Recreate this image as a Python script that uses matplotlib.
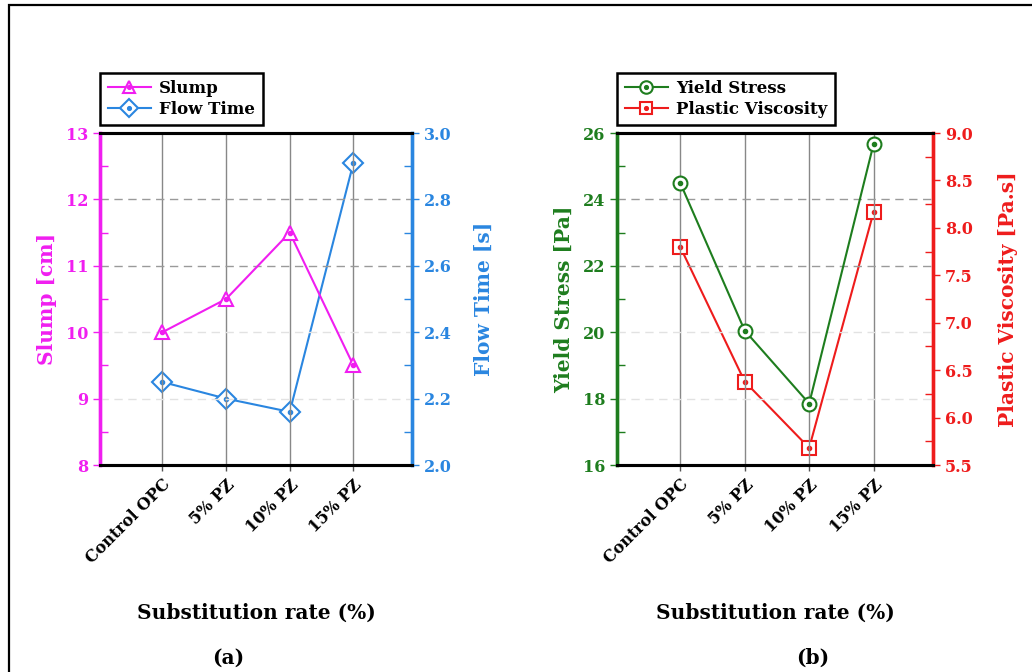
import matplotlib
matplotlib.use("Agg")
import matplotlib.pyplot as plt
from matplotlib.legend_handler import HandlerTuple
from matplotlib.ticker import MultipleLocator

plt.rcParams['font.family'] = 'DejaVu Serif'
plt.rcParams['font.weight'] = 'bold'

categories = ["Control OPC", "5% PZ", "10% PZ", "15% PZ"]
slump = [10.0, 10.5, 11.5, 9.5]
flow_time = [2.25, 2.20, 2.16, 2.91]
yield_stress = [24.5, 20.05, 17.85, 25.68]
plastic_viscosity = [7.80, 6.38, 5.68, 8.17]

magenta = "#f01ef0"
blue = "#2a86e0"
green = "#1e7d1e"
red = "#ee1c1c"
dash = (0, (6, 4))

fig = plt.figure(figsize=(10.32, 6.72), dpi=100)

# outer frame (only top and left edge visible in the source)
fig.add_artist(plt.Rectangle((9 / 1032, -0.1), 1.2, 1.1 - 5 / 672, transform=fig.transFigure,
                             fill=False, edgecolor="black", linewidth=1.6))


def draw_panel(rect, left_vals, right_vals, left_color, right_color, left_marker, right_marker,
               left_lim, right_lim, left_major, left_minor, right_major, right_minor,
               left_label, right_label, left_name, right_name, left_fmt, right_fmt,
               dark_rows, light_rows, sub_label, sub_x, right_pad):
    x = list(range(len(categories)))
    ax = fig.add_axes(rect)
    ax2 = ax.twinx()
    ax.set_zorder(ax2.get_zorder() + 1)
    ax.patch.set_visible(False)

    ax.set_xlim(-0.98, 3.92)
    ax.set_ylim(*left_lim)
    ax2.set_ylim(*right_lim)

    ax.set_xticks(x)
    ax.set_xticklabels(categories, rotation=45, ha="right", rotation_mode="anchor",
                       fontsize=11.5, fontweight="bold")
    ax.tick_params(axis="x", direction="out", length=4, width=1, color="#555555", pad=4)

    ax.yaxis.set_major_locator(MultipleLocator(left_major))
    ax.yaxis.set_minor_locator(MultipleLocator(left_minor))
    ax2.yaxis.set_major_locator(MultipleLocator(right_major))
    ax2.yaxis.set_minor_locator(MultipleLocator(right_minor))
    ax.yaxis.set_major_formatter(left_fmt)
    ax2.yaxis.set_major_formatter(right_fmt)
    ax.tick_params(axis="y", which="major", direction="out", length=5, width=1,
                   colors=left_color, labelsize=11.5)
    ax.tick_params(axis="y", which="minor", direction="in", length=6, width=1, colors=left_color)
    ax2.tick_params(axis="y", which="major", direction="out", length=5, width=1,
                    colors=right_color, labelsize=11.5)
    ax2.tick_params(axis="y", which="minor", direction="in", length=6, width=1, colors=right_color)

    for a in (ax, ax2):
        a.spines["top"].set_linewidth(2.2)
        a.spines["bottom"].set_linewidth(2.2)
        a.spines["top"].set_color("black")
        a.spines["bottom"].set_color("black")
        a.spines["left"].set_linewidth(2.4)
        a.spines["right"].set_linewidth(2.4)
        a.spines["left"].set_color(left_color)
        a.spines["right"].set_color(right_color)

    # grid: vertical solid, horizontal dashed
    ax.grid(axis="x", color="#888888", linewidth=1.0)
    ax.grid(axis="y", which="major", linestyle=dash, linewidth=1.0)
    for val, line in zip(ax.get_yticks(), ax.get_ygridlines()):
        if val in dark_rows:
            line.set_color("#9a9a9a")
        elif val in light_rows:
            line.set_color("#e2e2e2")
        else:
            line.set_visible(False)

    ax.set_ylabel(left_label, color=left_color, fontsize=14.5, fontweight="bold", labelpad=6)
    ax2.set_ylabel(right_label, color=right_color, fontsize=14.5, fontweight="bold",
                   labelpad=right_pad)

    l1, = ax.plot(x, left_vals, color=left_color, linewidth=1.5, marker=left_marker,
                  markersize=10, markerfacecolor="white", markeredgewidth=1.5, zorder=3)
    d1, = ax.plot(x, left_vals, linestyle="none", marker="o", markersize=3,
                  color=left_color, zorder=4)
    l2, = ax2.plot(x, right_vals, color=right_color, linewidth=1.5, marker=right_marker,
                   markersize=10, markerfacecolor="white", markeredgewidth=1.5, zorder=3)
    d2, = ax2.plot(x, right_vals, linestyle="none", marker="o", markersize=3,
                   color=right_color, zorder=4)

    leg = ax.legend([(l1, d1), (l2, d2)], [left_name, right_name],
                    handler_map={tuple: HandlerTuple(ndivide=1)},
                    loc="lower left", bbox_to_anchor=(0, 1.024), borderaxespad=0,
                    fancybox=False, edgecolor="black", framealpha=1,
                    prop={"weight": "bold", "size": 12}, handlelength=2.6,
                    labelspacing=0.2, borderpad=0.45, handletextpad=0.5, markerscale=0.9)
    leg.get_frame().set_linewidth(1.8)

    fig.text(rect[0] + rect[2] / 2, 1 - 613 / 672, "Substitution rate (%)",
             ha="center", va="center", fontsize=14.5, fontweight="bold")
    fig.text(sub_x / 1032, 1 - 658 / 672, sub_label, ha="center", va="center",
             fontsize=14.5, fontweight="bold")


draw_panel([100 / 1032, 1 - 465 / 672, 312 / 1032, 332 / 672], slump, flow_time,
           magenta, blue, "^", "D", (8, 13), (2.0, 3.0), 1, 0.5, 0.2, 0.1,
           "Slump [cm]", "Flow Time [s]", "Slump", "Flow Time", "{x:.0f}", "{x:.1f}",
           [12, 11], [10, 9], "(a)", 228, 16)

draw_panel([617 / 1032, 1 - 465 / 672, 316 / 1032, 332 / 672], yield_stress, plastic_viscosity,
           green, red, "o", "s", (16, 26), (5.5, 9.0), 2, 1, 0.5, 0.25,
           "Yield Stress [Pa]", "Plastic Viscosity [Pa.s]", "Yield Stress", "Plastic Viscosity",
           "{x:.0f}", "{x:.1f}", [24, 22], [20, 18], "(b)", 813, 18)

fig.savefig("out.png", dpi=100)
